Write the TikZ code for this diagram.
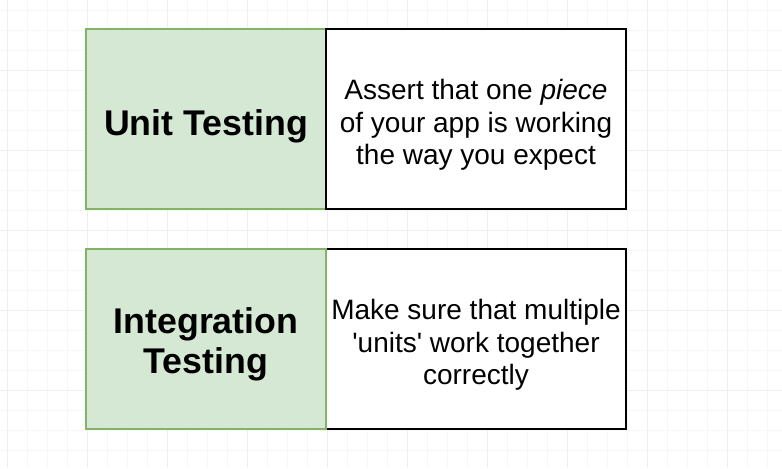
\documentclass[tikz,border=0pt]{standalone}
\usepackage{fontspec}
\setmainfont{Liberation Sans}
\definecolor{gridminor}{HTML}{F7F7F7}
\definecolor{gridmajor}{HTML}{EEEEEE}
\definecolor{termfill}{HTML}{D5E8D4}
\definecolor{termline}{HTML}{82B366}
\begin{document}
\begin{tikzpicture}[x=0.75pt,y=-0.75pt,
  termbox/.style={draw=termline,fill=termfill,line width=1.3pt,
    minimum width=240*0.75pt,minimum height=180*0.75pt,inner sep=0pt},
  descbox/.style={draw=black,fill=white,line width=1.3pt,
    minimum width=300*0.75pt,minimum height=180*0.75pt,inner sep=0pt},
  termtext/.style={align=center,inner sep=0pt,font=\fontsize{26.8}{30}\selectfont\bfseries},
  desctext/.style={align=center,inner sep=0pt,font=\fontsize{21}{24.2}\selectfont}]
  % canvas and background grid
  \fill[white] (0,0) rectangle (782,468);
  \useasboundingbox (0,0) rectangle (782,468);
  \foreach \gx in {7,27,...,787} \draw[gridminor,line width=0.5pt] (\gx,0) -- (\gx,468);
  \foreach \gy in {10,30,...,470} \draw[gridminor,line width=0.5pt] (0,\gy) -- (782,\gy);
  \foreach \gx in {7,87,...,787} \draw[gridmajor,line width=0.5pt] (\gx,0) -- (\gx,468);
  \foreach \gy in {70,150,...,470} \draw[gridmajor,line width=0.5pt] (0,\gy) -- (782,\gy);
  % unit testing row
  \node[termbox] (unit) at (206,119) {};
  \node[descbox] (unitdesc) at (476,119) {};
  \node[termtext] (unitlabel) at ([yshift=-5.5pt]unit.center) {Unit Testing};
  \node[desctext] (unittext) at ([yshift=-4.5pt]unitdesc.center)
    {Assert that one \textit{piece}\\of your app is working\\the way you expect};
  % integration testing row
  \node[descbox] (integdesc) at (476,339) {};
  \node[termbox] (integ) at (206,339) {};
  \node[termtext] (integlabel) at ([yshift=-4pt]integ.center) {Integration\\Testing};
  \node[desctext] (integtext) at ([yshift=-4.5pt]integdesc.center)
    {Make sure that multiple\\\textquotesingle units\textquotesingle{} work together\\correctly};
\end{tikzpicture}
\end{document}
